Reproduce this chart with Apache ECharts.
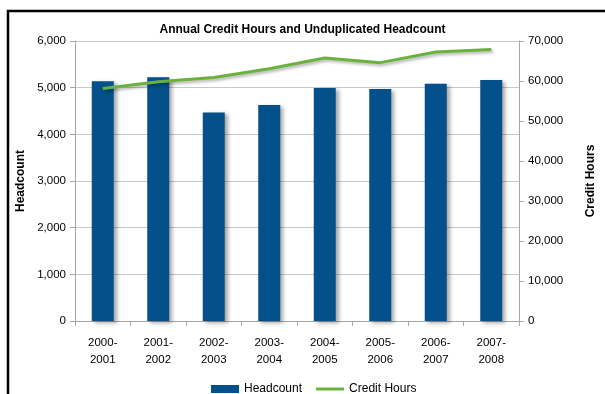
<!DOCTYPE html>
<html lang="en">

<head>
    <meta charset="UTF-8">
    <title>Annual Credit Hours and Unduplicated Headcount</title>
    <script src="https://cdn.jsdelivr.net/npm/echarts@6/dist/echarts.min.js"></script>
    <style>
        body { margin: 0; background: #fff; }
    </style>
</head>

<body>
    <div id="chart" style="width: 605px;height: 394px;"></div>
    <script>
        var years = ['2000-\n2001', '2001-\n2002', '2002-\n2003', '2003-\n2004',
            '2004-\n2005', '2005-\n2006', '2006-\n2007', '2007-\n2008'];
        var headcount = [5135, 5221, 4470, 4627, 4991, 4970, 5086, 5163];
        var creditHours = [58150, 59820, 60900, 63080, 65740, 64590, 67240, 67850];

        var font = 'Liberation Sans';
        var chart = echarts.init(document.getElementById('chart'));

        var option = {
            backgroundColor: '#fff',
            animation: false,
            textStyle: { fontFamily: font },
            title: {
                text: 'Annual Credit Hours and Unduplicated Headcount',
                left: 'center',
                top: 19,
                textStyle: { fontSize: 12, fontWeight: 'bold', color: '#000', fontFamily: font }
            },
            // black frame of the original screenshot
            graphic: [{
                type: 'polyline',
                shape: { points: [[8, 394], [8, 11], [605, 11]] },
                style: { stroke: '#000', lineWidth: 2.5, fill: null }
            }],
            legend: {
                left: 206,
                top: 378,
                itemWidth: 28,
                itemHeight: 8,
                itemGap: 14,
                textStyle: { fontSize: 12, color: '#000' },
                data: [
                    { name: 'Headcount', icon: 'rect' },
                    { name: 'Credit Hours', icon: 'path://M0,0 L28,0 L28,3 L0,3 Z' }
                ]
            },
            grid: { left: 75, right: 81, top: 41, bottom: 73 },
            xAxis: {
                type: 'category',
                data: years,
                axisLine: { lineStyle: { color: '#a6a6a6' } },
                axisTick: { show: true, length: 5, lineStyle: { color: '#a6a6a6' } },
                axisLabel: { fontSize: 11.5, color: '#000', lineHeight: 17, margin: 13 },
                splitLine: { show: false }
            },
            yAxis: [{
                type: 'value',
                name: 'Headcount',
                nameLocation: 'middle',
                nameGap: 47,
                nameTextStyle: { fontSize: 12, fontWeight: 'bold', color: '#000' },
                min: 0,
                max: 6000,
                interval: 1000,
                axisLine: { show: true, lineStyle: { color: '#a6a6a6' } },
                axisTick: { show: true, length: 5, lineStyle: { color: '#a6a6a6' } },
                axisLabel: { fontSize: 11.5, color: '#000', margin: 9 },
                splitLine: { lineStyle: { color: '#c8c8c8' } }
            }, {
                type: 'value',
                name: 'Credit Hours',
                nameLocation: 'middle',
                nameGap: 66,
                nameRotate: 90,
                nameTextStyle: { fontSize: 12, fontWeight: 'bold', color: '#000' },
                min: 0,
                max: 70000,
                interval: 10000,
                axisLine: { show: true, lineStyle: { color: '#a6a6a6' } },
                axisTick: { show: true, length: 5, lineStyle: { color: '#a6a6a6' } },
                axisLabel: { fontSize: 11.5, color: '#000', margin: 9 },
                splitLine: { show: false }
            }],
            series: [{
                name: 'Headcount',
                type: 'bar',
                data: headcount,
                barWidth: 22,
                itemStyle: {
                    color: '#03508a',
                    shadowColor: 'rgba(0,0,0,0.35)',
                    shadowBlur: 4,
                    shadowOffsetX: 3,
                    shadowOffsetY: 2
                }
            }, {
                name: 'Credit Hours',
                type: 'line',
                yAxisIndex: 1,
                data: creditHours,
                symbol: 'none',
                color: '#6ab23e',
                lineStyle: {
                    width: 3,
                    color: '#6ab23e',
                    shadowColor: 'rgba(0,0,0,0.3)',
                    shadowBlur: 3,
                    shadowOffsetX: 2,
                    shadowOffsetY: 2
                }
            }]
        };

        chart.setOption(option);
    </script>
</body>

</html>
